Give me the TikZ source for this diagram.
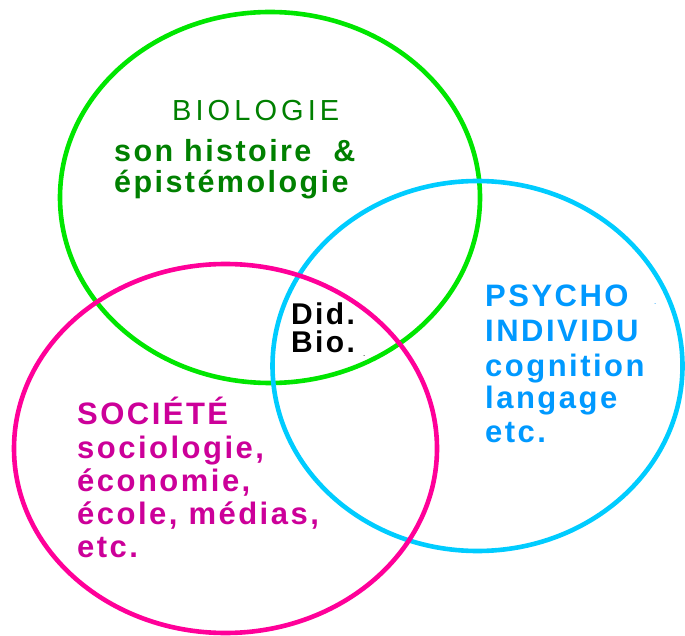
\documentclass[tikz,border=0pt]{standalone}
\usepackage{fontspec}
\setmainfont{Liberation Sans}
\newfontfamily\widereg[LetterSpace=14]{Liberation Sans}
\newfontfamily\widebold[LetterSpace=8]{Liberation Sans Bold}
\definecolor{cgreen}{RGB}{0,230,0}
\definecolor{cblue}{RGB}{0,204,255}
\definecolor{cmag}{RGB}{255,0,153}
\definecolor{tgreen}{RGB}{0,128,0}
\definecolor{tblue}{RGB}{0,153,255}
\definecolor{tmag}{RGB}{204,0,153}
\tikzset{
  ring/.style={line width=4.6pt},
  lbl/.style={anchor=base west, inner sep=0pt, font=\widereg\fontsize{#1}{#1}\selectfont},
  lbl/.default=29,
  blbl/.style={anchor=base west, inner sep=0pt, font=\widebold\fontsize{#1}{#1}\selectfont},
  blbl/.default=31,
  tinydot/.style={anchor=base west, inner sep=0pt, font=\fontsize{8}{8}\selectfont}
}
\begin{document}
\begin{tikzpicture}[x=1pt,y=1pt]
\useasboundingbox (0,0) rectangle (685,635);
\fill[white] (0,0) rectangle (685,635);
% circles
\draw[ring,cgreen] (270,437.5) ellipse [x radius=210, y radius=185.5];
\draw[ring,cblue] (477.5,269) ellipse [x radius=205, y radius=185];
\draw[ring,cmag] (225.5,186.5) ellipse [x radius=211.5, y radius=184.5];
% biologie
\node[lbl=29,text=tgreen] (bio) at (172,514) {BIOLOGIE};
\node[blbl=30.5,text=tgreen] (hist) at (114,473) {son histoire \ \&};
\node[blbl=30.5,text=tgreen] (epis) at (114,442) {épistémologie};
% center
\node[blbl=30] (did) at (291,310) {Did.};
\node[blbl=30] (biob) at (291,282) {Bio.};
\node[tinydot] (dot1) at (363,278) {.};
% psycho
\node[blbl=31,text=tblue] (psy) at (485,328) {PSYCHO};
\node[tinydot,text=tblue] (dot2) at (654,330) {.};
\node[blbl=31,text=tblue] (ind) at (485,293) {INDIVIDU};
\node[blbl=31,text=tblue] (cog) at (485,258) {cognition};
\node[blbl=31,text=tblue] (lang) at (485,226) {langage};
\node[blbl=31,text=tblue] (etc1) at (485,193) {etc.};
% societe
\node[blbl=31,text=tmag] (soc) at (77,211) {SOCIÉTÉ};
\node[blbl=31,text=tmag] (socio) at (77,177) {sociologie,};
\node[blbl=31,text=tmag] (eco) at (77,144) {économie,};
\node[blbl=31,text=tmag] (ecole) at (77,111) {école, médias,};
\node[blbl=31,text=tmag] (etc2) at (77,78) {etc.};
\end{tikzpicture}
\end{document}
